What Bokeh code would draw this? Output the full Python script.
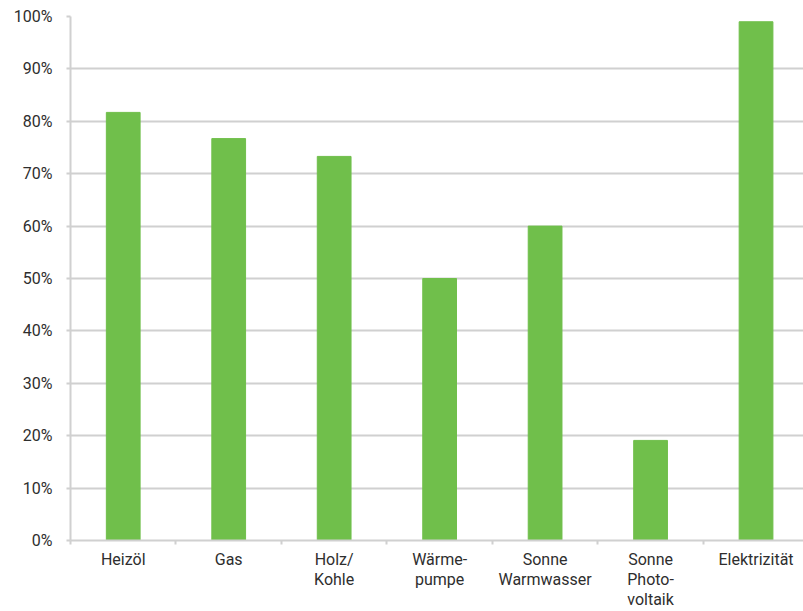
import numpy as np
from bokeh.plotting import figure
from bokeh.models import ColumnDataSource, FixedTicker, NumeralTickFormatter, Range1d
from bokeh.embed import file_html
from bokeh.resources import INLINE

categories = ["Heizöl", "Gas", "Holz/\nKohle", "Wärme-\npumpe", "Sonne\nWarmwasser", "Sonne\nPhoto-\nvoltaik", "Elektrizität"]
values = [0.817, 0.767, 0.733, 0.50, 0.60, 0.191, 0.99]
y_ticks = [0.0, 0.1, 0.2, 0.3, 0.4, 0.5, 0.6, 0.7, 0.8, 0.9, 1.0]

x = (np.arange(len(categories)) + 0.5).tolist()
source = ColumnDataSource(dict(x=x, top=values, cat=categories))

p = figure(frame_width=733, frame_height=524, output_backend="svg", toolbar_location=None,
           x_range=Range1d(0, 6.95), y_range=Range1d(0, 1.0),
           min_border_left=70, min_border_right=0, min_border_top=16, min_border_bottom=0)
p.outline_line_color = None
p.background_fill_color = "white"
p.border_fill_color = "white"

p.vbar(x="x", top="top", width=0.32, bottom=0, source=source, color="#70bf4b")

grey = "#d0d0d0"
font = "Roboto"
lab = "#2e2e2e"

p.xaxis.ticker = FixedTicker(ticks=x, minor_ticks=list(range(len(categories) + 1)))
p.xaxis.major_label_overrides = {xi: c for xi, c in zip(x, categories)}
p.xaxis.major_tick_out = 0
p.xaxis.major_tick_in = 0
p.xaxis.minor_tick_out = 4
p.xaxis.minor_tick_in = 0
p.xaxis.minor_tick_line_color = grey
p.xaxis.minor_tick_line_width = 2
p.xaxis.axis_line_color = grey
p.xaxis.axis_line_width = 2
p.xaxis.major_label_standoff = 5
p.xaxis.major_label_text_font = font
p.xaxis.major_label_text_font_size = "16px"
p.xaxis.major_label_text_color = lab
p.xaxis.major_label_text_line_height = 1.07

p.yaxis.ticker = FixedTicker(ticks=y_ticks)
p.yaxis.formatter = NumeralTickFormatter(format="0%")
p.yaxis.major_tick_out = 4
p.yaxis.major_tick_in = 0
p.yaxis.minor_tick_line_color = None
p.yaxis.major_tick_line_color = grey
p.yaxis.major_tick_line_width = 2
p.yaxis.axis_line_color = grey
p.yaxis.axis_line_width = 2
p.yaxis.major_label_standoff = 14
p.yaxis.major_label_text_font = font
p.yaxis.major_label_text_font_size = "16px"
p.yaxis.major_label_text_color = lab

p.xgrid.grid_line_color = None
p.ygrid.grid_line_color = grey
p.ygrid.grid_line_width = 2
p.ygrid.ticker = FixedTicker(ticks=y_ticks)

open("out.html", "w").write(file_html(p, INLINE))
